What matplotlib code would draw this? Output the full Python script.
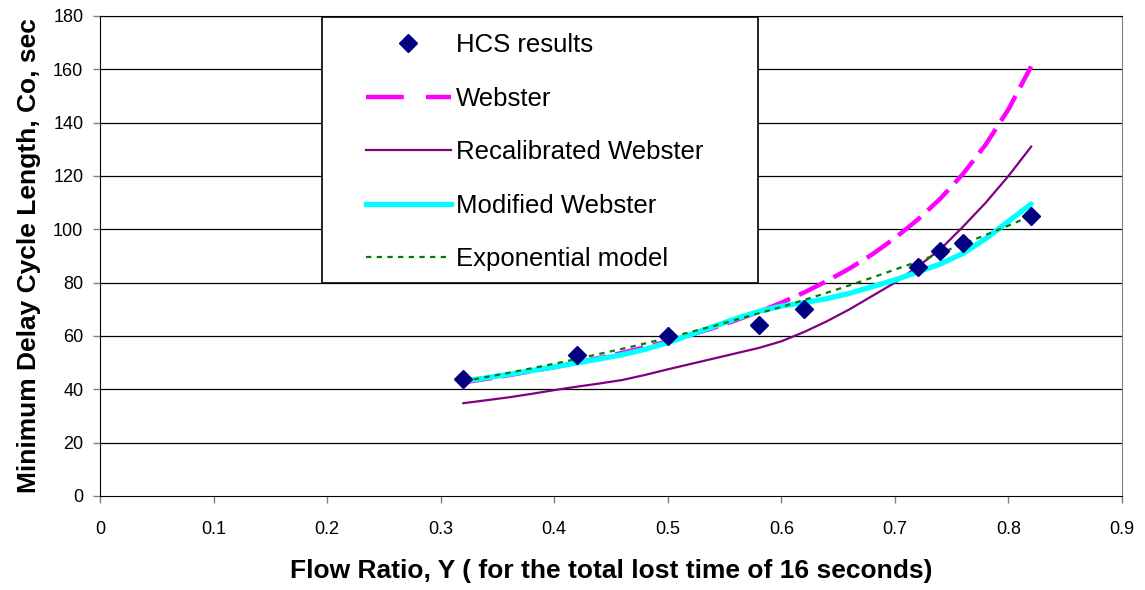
import matplotlib
matplotlib.use("Agg")
import matplotlib.pyplot as plt
from matplotlib.patches import Rectangle
from matplotlib.lines import Line2D

plt.rcParams['font.family'] = ['Liberation Sans', 'DejaVu Sans']

# Observed HCS optimum cycle lengths
hcs_y = [0.32, 0.42, 0.50, 0.58, 0.62, 0.72, 0.74, 0.76, 0.82]
hcs_c = [44, 53, 60, 64, 70, 86, 92, 95, 105]

# Flow ratios at which the model curves are evaluated
flow = [0.32, 0.34, 0.36, 0.38, 0.40, 0.42, 0.44, 0.46, 0.48, 0.50, 0.52, 0.54, 0.56,
        0.58, 0.60, 0.62, 0.64, 0.66, 0.68, 0.70, 0.72, 0.74, 0.76, 0.78, 0.80, 0.82]

webster = [42.6, 43.9, 45.3, 46.8, 48.3, 50.0, 51.8, 53.7, 55.8, 58.0, 60.4, 63.0, 65.9,
           69.0, 72.5, 76.3, 80.6, 85.3, 90.6, 96.7, 103.6, 111.5, 120.8, 131.8, 145.0, 161.1]

recalibrated = [34.8, 35.9, 37.0, 38.3, 39.7, 41.0, 42.2, 43.5, 45.4, 47.5, 49.5, 51.5, 53.5,
                55.5, 58.0, 61.5, 65.5, 70.0, 75.0, 80.0, 86.0, 92.5, 101.0, 110.0, 120.0, 131.0]

modified = [43.0, 44.3, 45.6, 47.0, 48.4, 49.9, 51.4, 53.0, 55.0, 57.5, 60.5, 63.5, 66.5,
            69.2, 71.2, 72.5, 74.0, 76.0, 78.5, 81.0, 84.0, 87.0, 91.0, 96.5, 103.0, 109.5]

exponential = [43.0, 44.6, 46.2, 47.9, 49.6, 51.4, 53.3, 55.2, 57.2, 59.3, 61.5, 63.7, 66.1,
               68.5, 70.9, 73.5, 76.2, 79.0, 81.9, 84.9, 87.9, 91.1, 94.5, 97.9, 101.4, 105.1]

x_ticks = [0, 0.1, 0.2, 0.3, 0.4, 0.5, 0.6, 0.7, 0.8, 0.9]
x_tick_labels = ['0', '0.1', '0.2', '0.3', '0.4', '0.5', '0.6', '0.7', '0.8', '0.9']
y_ticks = [0, 20, 40, 60, 80, 100, 120, 140, 160, 180]

W, H = 1145, 590
fig = plt.figure(figsize=(W / 100, H / 100), dpi=100)
ax = fig.add_axes([100 / W, 1 - 496 / H, (1122 - 100) / W, (496 - 16) / H])

ax.set_xlim(0, 0.9)
ax.set_ylim(0, 180)
ax.set_xticks(x_ticks)
ax.set_xticklabels(x_tick_labels)
ax.set_yticks(y_ticks)
ax.tick_params(axis='both', direction='out', length=5, width=1, colors='#808080',
               labelcolor='black', labelsize=13)
ax.tick_params(axis='x', pad=13)
ax.tick_params(axis='y', pad=7)

for v in y_ticks[1:]:
    ax.axhline(v, color='black', lw=0.9, zorder=1)

ax.spines['left'].set_color('black')
ax.spines['bottom'].set_color('black')
ax.spines['right'].set_color('#808080')
ax.spines['top'].set_color('black')

c_mag = '#FF00FF'
c_pur = '#800080'
c_cyan = '#00FFFF'
c_green = '#008000'
c_navy = '#000080'

ax.plot(flow, webster, color=c_mag, lw=3.2, dashes=(6.5, 2.2), zorder=3)
ax.plot(flow, recalibrated, color=c_pur, lw=1.6, zorder=3)
ax.plot(flow, modified, color=c_cyan, lw=3.8, solid_capstyle='round', zorder=3)
ax.plot(flow, exponential, color=c_green, lw=1.6, dashes=(2.4, 2.4), zorder=4)
ax.plot(hcs_y, hcs_c, linestyle='none', marker='D', markersize=9, color=c_navy, zorder=5)

ax.set_xlabel('Flow Ratio, Y ( for the total lost time of 16 seconds)', fontsize=19,
              fontweight='bold', labelpad=15)
ax.set_ylabel('Minimum Delay Cycle Length, Co, sec', fontsize=19, fontweight='bold',
              labelpad=9)

# Legend: white framed box with entries laid out inside
frame = Rectangle((322 / W, 1 - 283 / H), (758 - 322) / W, (283 - 17) / H,
                  transform=fig.transFigure, facecolor='white', edgecolor='black',
                  lw=1.2, zorder=6)
fig.patches.append(frame)

handles = [
    Line2D([], [], linestyle='none', marker='D', markersize=9, color=c_navy),
    Line2D([], [], color=c_mag, lw=3.2, dashes=(8.5, 5)),
    Line2D([], [], color=c_pur, lw=1.6),
    Line2D([], [], color=c_cyan, lw=3.8),
    Line2D([], [], color=c_green, lw=1.6, dashes=(2.4, 2.4)),
]
labels = ['HCS results', 'Webster', 'Recalibrated Webster', 'Modified Webster',
          'Exponential model']
leg = fig.legend(handles, labels, loc='upper left',
                 bbox_to_anchor=(366 / W, 1 - 33 / H), bbox_transform=fig.transFigure,
                 frameon=False, fontsize=18.5, handlelength=3.3, handletextpad=0.2,
                 labelspacing=1.15, borderpad=0, borderaxespad=0)
leg.set_zorder(7)

fig.savefig('out.png', dpi=100)
